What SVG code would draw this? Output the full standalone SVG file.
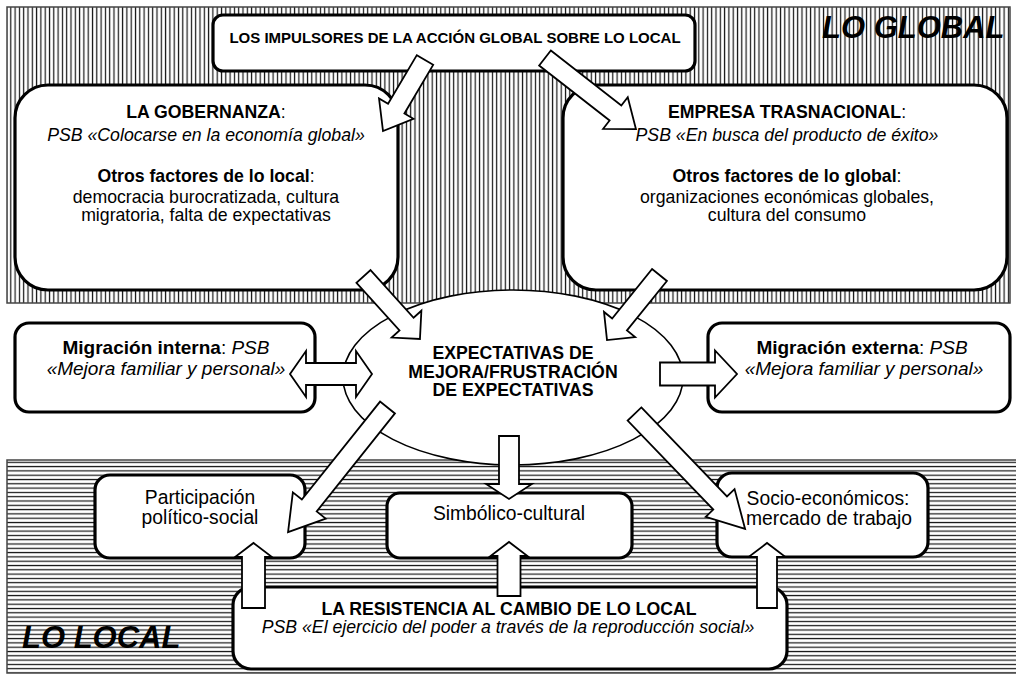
<svg xmlns="http://www.w3.org/2000/svg" width="1016" height="675" viewBox="0 0 1016 675">
<defs>
<pattern id="vh" width="4.3" height="10" patternUnits="userSpaceOnUse"><rect width="4.3" height="10" fill="#fff"/><rect x="1.6" y="0" width="1.2" height="10" fill="#111"/></pattern>
<pattern id="hh" width="10" height="4.3" patternUnits="userSpaceOnUse"><rect width="10" height="4.3" fill="#fff"/><rect x="0" y="1.6" width="10" height="1.2" fill="#111"/></pattern>
<style>
text{font-family:"Liberation Sans",Arial,Helvetica,sans-serif;fill:#000;text-anchor:middle}
.b{font-weight:bold}
.i{font-style:italic}
.f17{font-size:17.7px}
.f19{font-size:19.3px}
.box{fill:#fff;stroke:#000;stroke-width:3.2}
.ell{fill:#fff;stroke:#000;stroke-width:1.6}
.arr{fill:#fff;stroke:#000;stroke-width:1.8;stroke-linejoin:miter}
.reg{stroke:#444;stroke-width:1.5}
.big{font-size:31px;font-weight:bold;font-style:italic;text-anchor:start}
</style>
</defs>
<rect width="1016" height="675" fill="#fff"/>
<g id="region-global">
<rect class="reg" x="7" y="7" width="1003" height="296" fill="url(#vh)"/>
<text class="big" x="822" y="38">LO GLOBAL</text>
</g>
<g id="region-local">
<rect class="reg" x="7" y="460" width="1012" height="213" fill="url(#hh)"/>
<text class="big" x="22" y="648">LO LOCAL</text>
</g>
<g id="node-impulsores">
<rect class="box" x="213" y="15" width="482" height="56" rx="10"/>
<text class="b" x="455" y="43" style="font-size:15px">LOS IMPULSORES DE LA ACCIÓN GLOBAL SOBRE LO LOCAL</text>
</g>
<g id="node-gobernanza">
<rect class="box" x="15" y="85" width="383" height="205" rx="33"/>
<text class="f17" x="206" y="118"><tspan class="b">LA GOBERNANZA</tspan>:</text>
<text class="f17 i" x="206" y="141">PSB «Colocarse en la economía global»</text>
<text class="f17" x="206" y="182"><tspan class="b">Otros factores de lo local</tspan>:</text>
<text class="f17" x="206" y="203">democracia burocratizada, cultura</text>
<text class="f17" x="206" y="221">migratoria, falta de expectativas</text>
</g>
<g id="node-empresa">
<rect class="box" x="563" y="85" width="444" height="205" rx="33"/>
<text class="f17" x="787" y="118"><tspan class="b">EMPRESA TRASNACIONAL</tspan>:</text>
<text class="f17 i" x="787" y="141">PSB «En busca del producto de éxito»</text>
<text class="f17" x="787" y="182"><tspan class="b">Otros factores de lo global</tspan>:</text>
<text class="f17" x="787" y="203">organizaciones económicas globales,</text>
<text class="f17" x="787" y="221">cultura del consumo</text>
</g>
<g id="node-expectativas">
<ellipse class="ell" cx="513" cy="377.5" rx="170" ry="87.5"/>
<text class="f17 b" x="513" y="359">EXPECTATIVAS DE</text>
<text class="f17 b" x="513" y="378">MEJORA/FRUSTRACIÓN</text>
<text class="f17 b" x="513" y="396">DE EXPECTATIVAS</text>
</g>
<g id="node-migracion-interna">
<rect class="box" x="15" y="323" width="300" height="89" rx="14"/>
<text style="font-size:19px" x="166" y="354"><tspan class="b">Migración interna</tspan>: <tspan class="i">PSB</tspan></text>
<text class="i" style="font-size:19px" x="166" y="375">«Mejora familiar y personal»</text>
</g>
<g id="node-migracion-externa">
<rect class="box" x="708" y="323" width="302" height="89" rx="14"/>
<text style="font-size:19px" x="862" y="354"><tspan class="b">Migración externa</tspan>: <tspan class="i">PSB</tspan></text>
<text class="i" style="font-size:19px" x="864" y="375">«Mejora familiar y personal»</text>
</g>
<g id="node-participacion">
<rect class="box" x="95" y="475" width="210" height="83" rx="15"/>
<text class="f19" x="200" y="504">Participación</text>
<text class="f19" x="200" y="524">político-social</text>
</g>
<g id="node-simbolico">
<rect class="box" x="387" y="493" width="245" height="65" rx="13"/>
<text class="f19" x="509" y="520">Simbólico-cultural</text>
</g>
<g id="node-socioeconomicos">
<rect class="box" x="717" y="473" width="211" height="84" rx="15"/>
<text class="f19" x="828" y="505">Socio-económicos:</text>
<text class="f19" x="829" y="525">mercado de trabajo</text>
</g>
<g id="node-resistencia">
<rect class="box" x="233" y="587" width="554" height="82" rx="18"/>
<text class="f17 b" x="509" y="615">LA RESISTENCIA AL CAMBIO DE LO LOCAL</text>
<text class="f17 i" x="508" y="633">PSB «El ejercicio del poder a través de la reproducción social»</text>
</g>
<g id="connectors">
<path class="arr" transform="translate(425,60) rotate(120.6)" d="M0,-9.5 H56.5 V-20 L82.5,0 L56.5,20 V9.5 H0 Z"/>
<path class="arr" transform="translate(545,58) rotate(38)" d="M0,-9.5 H89.4 V-20 L115.4,0 L89.4,20 V9.5 H0 Z"/>
<path class="arr" transform="translate(363.5,276.5) rotate(47.9)" d="M0,-9.5 H64.2 V-20 L84.2,0 L64.2,20 V9.5 H0 Z"/>
<path class="arr" transform="translate(659.5,275) rotate(128.9)" d="M0,-9.5 H63.6 V-20 L83.6,0 L63.6,20 V9.5 H0 Z"/>
<path class="arr" d="M290,374 L306,351 V363 H356 V351 L372,374 L356,397 V385 H306 V397 Z"/>
<path class="arr" transform="translate(660,374)" d="M0,-11.5 H55 V-23.5 L77,0 L55,23.5 V11.5 H0 Z"/>
<path class="arr" transform="translate(387.5,407.5) rotate(128.6)" d="M0,-9.5 H125.4 V-21 L159.4,0 L125.4,21 V9.5 H0 Z"/>
<path class="arr" transform="translate(509,436) rotate(90)" d="M0,-10 H48 V-23 L63,0 L48,23 V10 H0 Z"/>
<path class="arr" transform="translate(634.5,414) rotate(46.1)" d="M0,-9.5 H123.5 V-20 L159.5,0 L123.5,20 V9.5 H0 Z"/>
<path class="arr" transform="translate(253.5,608) rotate(-90)" d="M0,-11.5 H51 V-18.5 L65,0 L51,18.5 V11.5 H0 Z"/>
<path class="arr" transform="translate(509,596) rotate(-90)" d="M0,-11.5 H40 V-18.5 L54,0 L40,18.5 V11.5 H0 Z"/>
<path class="arr" transform="translate(767,608) rotate(-90)" d="M0,-10 H51 V-18.5 L65,0 L51,18.5 V10 H0 Z"/>
</g>
</svg>
